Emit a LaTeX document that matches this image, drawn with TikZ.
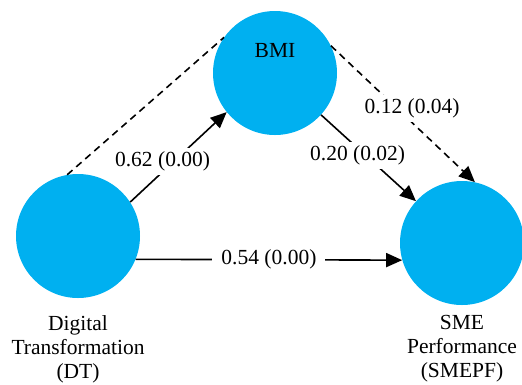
\documentclass[tikz,border=0pt]{standalone}
\usepackage{fontspec}
\setmainfont{Liberation Serif}
\usetikzlibrary{arrows.meta,positioning}
\definecolor{smcyan}{RGB}{0,176,240}

\begin{document}
\begin{tikzpicture}[x=1pt,y=-1pt,font=\fontsize{21.5}{24}\selectfont,
    var/.style={circle,fill=smcyan,minimum size=124pt,inner sep=0pt},
    link/.style={line width=1.6pt,-{Triangle[length=16pt,width=14pt]}},
    coef/.style={fill=white,inner xsep=9pt,inner ysep=4pt}]
    \useasboundingbox (0,0) rectangle (522,384);
    \node[var,label={[yshift=23pt]center:BMI}] (bmi) at (275,73) {};
    \node[var] (dt) at (78,236) {};
    \node[var] (smepf) at (462,243) {};
    \node[align=center,below=14pt of dt] (dttxt) {Digital\\Transformation\\(DT)};
    \node[align=center,below=7pt of smepf] (smetxt) {SME\\Performance\\(SMEPF)};
    \draw[link] (dt.33) -- node[coef,pos=0.45,xshift=-11pt] {0.62 (0.00)} (bmi.219);
    \draw[link] (bmi) -- node[coef,pos=0.47,xshift=-8pt] {0.20 (0.02)} (smepf);
    \draw[link] (dt.-22) -- node[coef] {0.54 (0.00)} (smepf.196);
    \draw[link,dash pattern=on 7pt off 5pt] (dt.100) -- (bmi.145) (bmi.26) -- node[coef,pos=0.46,xshift=15pt] {0.12 (0.04)} (smepf.78);
\end{tikzpicture}
\end{document}
